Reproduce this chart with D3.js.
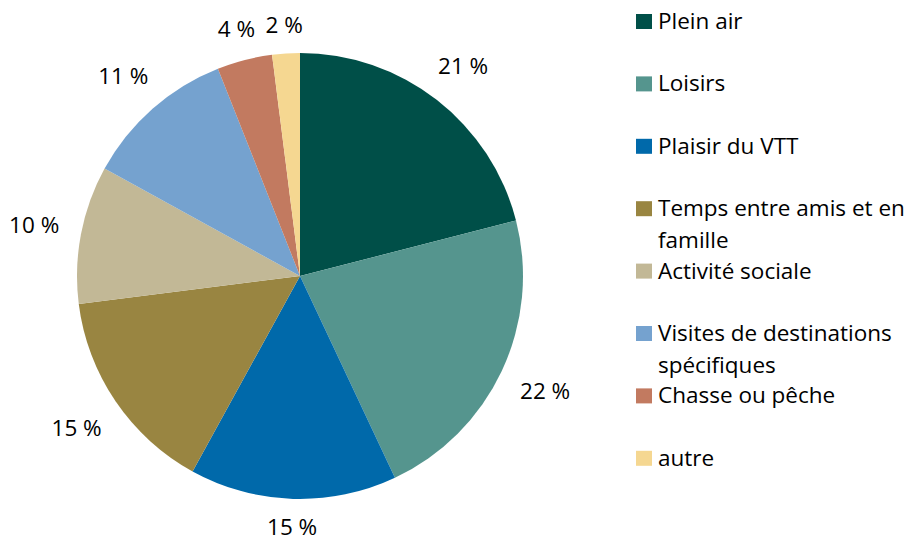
<!DOCTYPE html>
<html>
<head>
<meta charset="utf-8">
<script src="https://cdn.jsdelivr.net/npm/d3@7"></script>
<style>
  body { margin: 0; background: #fff; }
  text { font-family: "Open Sans", Lato, sans-serif; fill: #000; }
</style>
</head>
<body>
<svg id="chart" width="914" height="537"></svg>
<script>
// data
var categories = ["Plein air", "Loisirs", "Plaisir du VTT", "Temps entre amis et en famille",
                  "Activité sociale", "Visites de destinations spécifiques", "Chasse ou pêche", "autre"];
var values = [21, 22, 15, 15, 10, 11, 4, 2];
var colors = ["#004F48", "#55958E", "#0069AA", "#998541", "#C2B896", "#75A2CF", "#C27A60", "#F5D791"];

var width = 914, height = 537,
    cx = 300, cy = 276, radius = 223,
    fontSize = 22.5;

var data = categories.map(function(c, i) { return {name: c, value: values[i], color: colors[i]}; });

var svg = d3.select("#chart");

var pie = d3.pie()
    .sort(null)
    .value(function(d) { return d.value; });

var arc = d3.arc()
    .innerRadius(0)
    .outerRadius(radius);

var g = svg.append("g")
    .attr("transform", "translate(" + cx + "," + cy + ")");

var arcs = pie(data);

g.selectAll("path.slice")
    .data(arcs)
  .enter().append("path")
    .attr("class", "slice")
    .attr("d", arc)
    .style("fill", function(d) { return d.data.color; });

// labels outside end
var labels = g.selectAll("text.lbl")
    .data(arcs)
  .enter().append("text")
    .attr("class", "lbl")
    .style("font-size", fontSize + "px")
    .attr("text-anchor", "middle")
    .attr("dy", "0.36em")
    .text(function(d) { return d.data.value + " %"; });

labels.each(function(d) {
  var bb = this.getBBox();
  var a = (d.startAngle + d.endAngle) / 2;
  var s = Math.sin(a), c = -Math.cos(a);
  var ext = Math.abs(s) * (bb.width / 2 + 5) + Math.abs(c) * 11;
  var r = radius + 16 + ext;
  d3.select(this).attr("x", s * r).attr("y", c * r);
});

// legend
var lx = 636, ly = 14, step = 62.4, maxW = 262;
var legend = svg.append("g");

data.forEach(function(d, i) {
  var y = ly + i * step;
  legend.append("rect")
      .attr("x", lx).attr("y", y)
      .attr("width", 16).attr("height", 15)
      .style("fill", d.color);
  var t = legend.append("text")
      .attr("x", lx + 22)
      .attr("y", y + 15)
      .style("font-size", fontSize + "px");
  var words = d.name.split(" "), line = [];
  var ts = t.append("tspan").attr("x", lx + 22).attr("dy", 0);
  words.forEach(function(w) {
    line.push(w);
    ts.text(line.join(" "));
    if (ts.node().getComputedTextLength() > maxW && line.length > 1) {
      line.pop();
      ts.text(line.join(" "));
      line = [w];
      ts = t.append("tspan").attr("x", lx + 22).attr("dy", 32).text(w);
    }
  });
});
</script>
</body>
</html>
